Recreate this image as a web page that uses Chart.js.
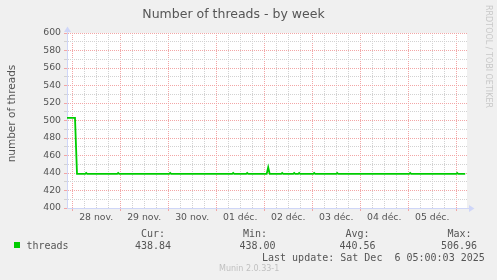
<!DOCTYPE html>
<html lang="fr">
<head>
    <meta charset="UTF-8">
    <title>Number of threads - by week</title>
    <script src="https://cdn.jsdelivr.net/npm/chart.js"></script>
    <style>
        body {
            margin: 0;
            background-color: #F0F0F0;
        }
        canvas {
            display: block;
        }
    </style>
</head>
<body>

    <canvas id="grafica" width="497" height="280"></canvas>

    <script>
        // datos (horas desde el 28 nov. 00:00)
        const hours = [-2.6, 1.4, 2.4,
            6.5, 7, 7.5, 22.5, 23, 23.5, 48.5, 49, 49.5, 80, 80.5, 81, 87, 87.5, 88,
            97.25, 98, 98.75,
            104.5, 105, 105.5, 110.5, 111, 111.5, 113, 113.5, 114, 120.5, 121, 121.5,
            132, 132.5, 133, 168.5, 169, 169.5, 192, 192.5, 193,
            196.5];
        const threads = [503, 503, 439,
            439, 440, 439, 439, 440, 439, 439, 440, 439, 439, 440, 439, 439, 440, 439,
            439, 446.5, 439,
            439, 440, 439, 439, 440, 439, 439, 440, 439, 439, 440, 439,
            439, 440, 439, 439, 440, 439, 439, 440, 439,
            439];
        const dayLabels = ['28 nov.', '29 nov.', '30 nov.', '01 déc.', '02 déc.', '03 déc.', '04 déc.', '05 déc.'];

        const legendLabels = ['Cur:', 'Min:', 'Avg:', 'Max:'];
        const legendValues = ['438.84', '438.00', '440.56', '506.96'];
        const lastUpdate = 'Last update: Sat Dec  6 05:00:03 2025';

        const rojo = '#f2a6a6';
        const gris = '#d2d2d2';
        const ejeColor = '#cfd6f8';
        const texto = '#555555';

        Chart.defaults.font.family = "'DejaVu Sans', sans-serif";

        // fondo blanco, flechas, leyenda y textos sueltos
        const extras = {
            id: 'extras',
            beforeDraw(chart) {
                const {ctx, chartArea: a} = chart;
                ctx.save();
                ctx.fillStyle = '#FFFFFF';
                ctx.fillRect(a.left, a.top, a.right - a.left, a.bottom - a.top);
                ctx.restore();
            },
            afterDraw(chart) {
                const {ctx, chartArea: a} = chart;
                ctx.save();

                // ejes y flechas
                ctx.strokeStyle = ejeColor;
                ctx.fillStyle = ejeColor;
                ctx.lineWidth = 1;
                ctx.beginPath();
                ctx.moveTo(a.right, a.bottom + 0.5);
                ctx.lineTo(a.right + 3, a.bottom + 0.5);
                ctx.moveTo(a.left + 0.5, a.top);
                ctx.lineTo(a.left + 0.5, a.top - 2);
                ctx.stroke();
                ctx.beginPath();
                ctx.moveTo(a.right + 7.5, a.bottom + 0.5);
                ctx.lineTo(a.right + 2, a.bottom - 3);
                ctx.lineTo(a.right + 2, a.bottom + 4);
                ctx.closePath();
                ctx.fill();
                ctx.beginPath();
                ctx.moveTo(a.left + 0.5, a.top - 6.5);
                ctx.lineTo(a.left - 3, a.top - 1);
                ctx.lineTo(a.left + 4, a.top - 1);
                ctx.closePath();
                ctx.fill();

                // título del eje y
                ctx.fillStyle = texto;
                ctx.font = "10.5px 'DejaVu Sans'";
                ctx.textAlign = 'center';
                ctx.textBaseline = 'middle';
                ctx.save();
                ctx.translate(12.2, 113.5);
                ctx.rotate(-Math.PI / 2);
                ctx.fillText('number of threads', 0, 0);
                ctx.restore();

                // marca de agua
                ctx.fillStyle = '#c8c8c8';
                ctx.font = "8px 'DejaVu Sans'";
                ctx.textAlign = 'left';
                ctx.textBaseline = 'alphabetic';
                ctx.save();
                ctx.translate(486, 5);
                ctx.rotate(Math.PI / 2);
                ctx.fillText('RRDTOOL / TOBI OETIKER', 0, 0);
                ctx.restore();

                // leyenda
                ctx.fillStyle = '#00cc00';
                ctx.fillRect(14, 242, 6, 6);
                ctx.fillStyle = texto;
                ctx.font = "10px 'DejaVu Sans Mono'";
                ctx.fillText('threads', 26.5, 249);
                const labelX = [141, 243, 345.5, 447.5];
                const valueX = [135, 239.5, 339.5, 441];
                legendLabels.forEach((t, i) => ctx.fillText(t, labelX[i], 237));
                legendValues.forEach((t, i) => ctx.fillText(t, valueX[i], 249));
                ctx.fillText(lastUpdate, 262, 261);

                ctx.fillStyle = '#c0c0c0';
                ctx.font = "8px 'DejaVu Sans'";
                ctx.fillText('Munin 2.0.33-1', 219, 271);

                ctx.restore();
            }
        };

        const ctx = document.getElementById('grafica').getContext('2d');
        new Chart(ctx, {
            type: 'line',
            data: {
                datasets: [{
                    label: 'threads',
                    data: hours.map((h, i) => ({x: h, y: threads[i]})),
                    borderColor: '#00cc00',
                    borderWidth: 1.8,
                    pointRadius: 0,
                    tension: 0,
                    fill: false
                }]
            },
            options: {
                responsive: false,
                animation: false,
                devicePixelRatio: 1,
                layout: { padding: { left: 0, right: 30, top: 0, bottom: 0 } },
                plugins: {
                    legend: { display: false },
                    tooltip: { enabled: false },
                    title: {
                        display: true,
                        text: 'Number of threads - by week',
                        color: texto,
                        font: { size: 12.5, weight: 'normal', lineHeight: 1.2 },
                        padding: { top: 7, bottom: 11 }
                    }
                },
                scales: {
                    x: {
                        type: 'linear',
                        min: -2.6,
                        max: 197.4,
                        afterBuildTicks: (s) => {
                            const t = [];
                            for (let h = 0; h <= 192; h += 6) t.push({ value: h });
                            s.ticks = t;
                        },
                        afterFit: (s) => { s.height = 72; },
                        ticks: {
                            autoSkip: false,
                            maxRotation: 0,
                            padding: 0.6,
                            color: texto,
                            font: { size: 9.3 },
                            callback: (v) => v % 24 === 12 ? dayLabels[(v - 12) / 24] : ''
                        },
                        grid: {
                            color: (c) => c.tick && c.tick.value % 24 === 0 ? rojo : gris,
                            tickLength: 3,
                            tickColor: (c) => c.tick && c.tick.value % 24 === 0 ? rojo : 'rgba(0,0,0,0)'
                        },
                        border: { color: ejeColor, dash: [1, 1] }
                    },
                    y: {
                        min: 400,
                        max: 600,
                        afterFit: (s) => { s.width = 67; },
                        ticks: {
                            stepSize: 10,
                            autoSkip: false,
                            padding: 3,
                            color: texto,
                            font: { size: 9.3 },
                            callback: (v) => v % 20 === 0 ? v : ''
                        },
                        grid: {
                            color: (c) => c.tick && c.tick.value % 20 === 0 ? rojo : gris,
                            tickLength: 3,
                            tickColor: (c) => c.tick && c.tick.value % 20 === 0 ? rojo : gris
                        },
                        border: { color: ejeColor, dash: [1, 1] }
                    }
                }
            },
            plugins: [extras]
        });
    </script>
</body>
</html>
